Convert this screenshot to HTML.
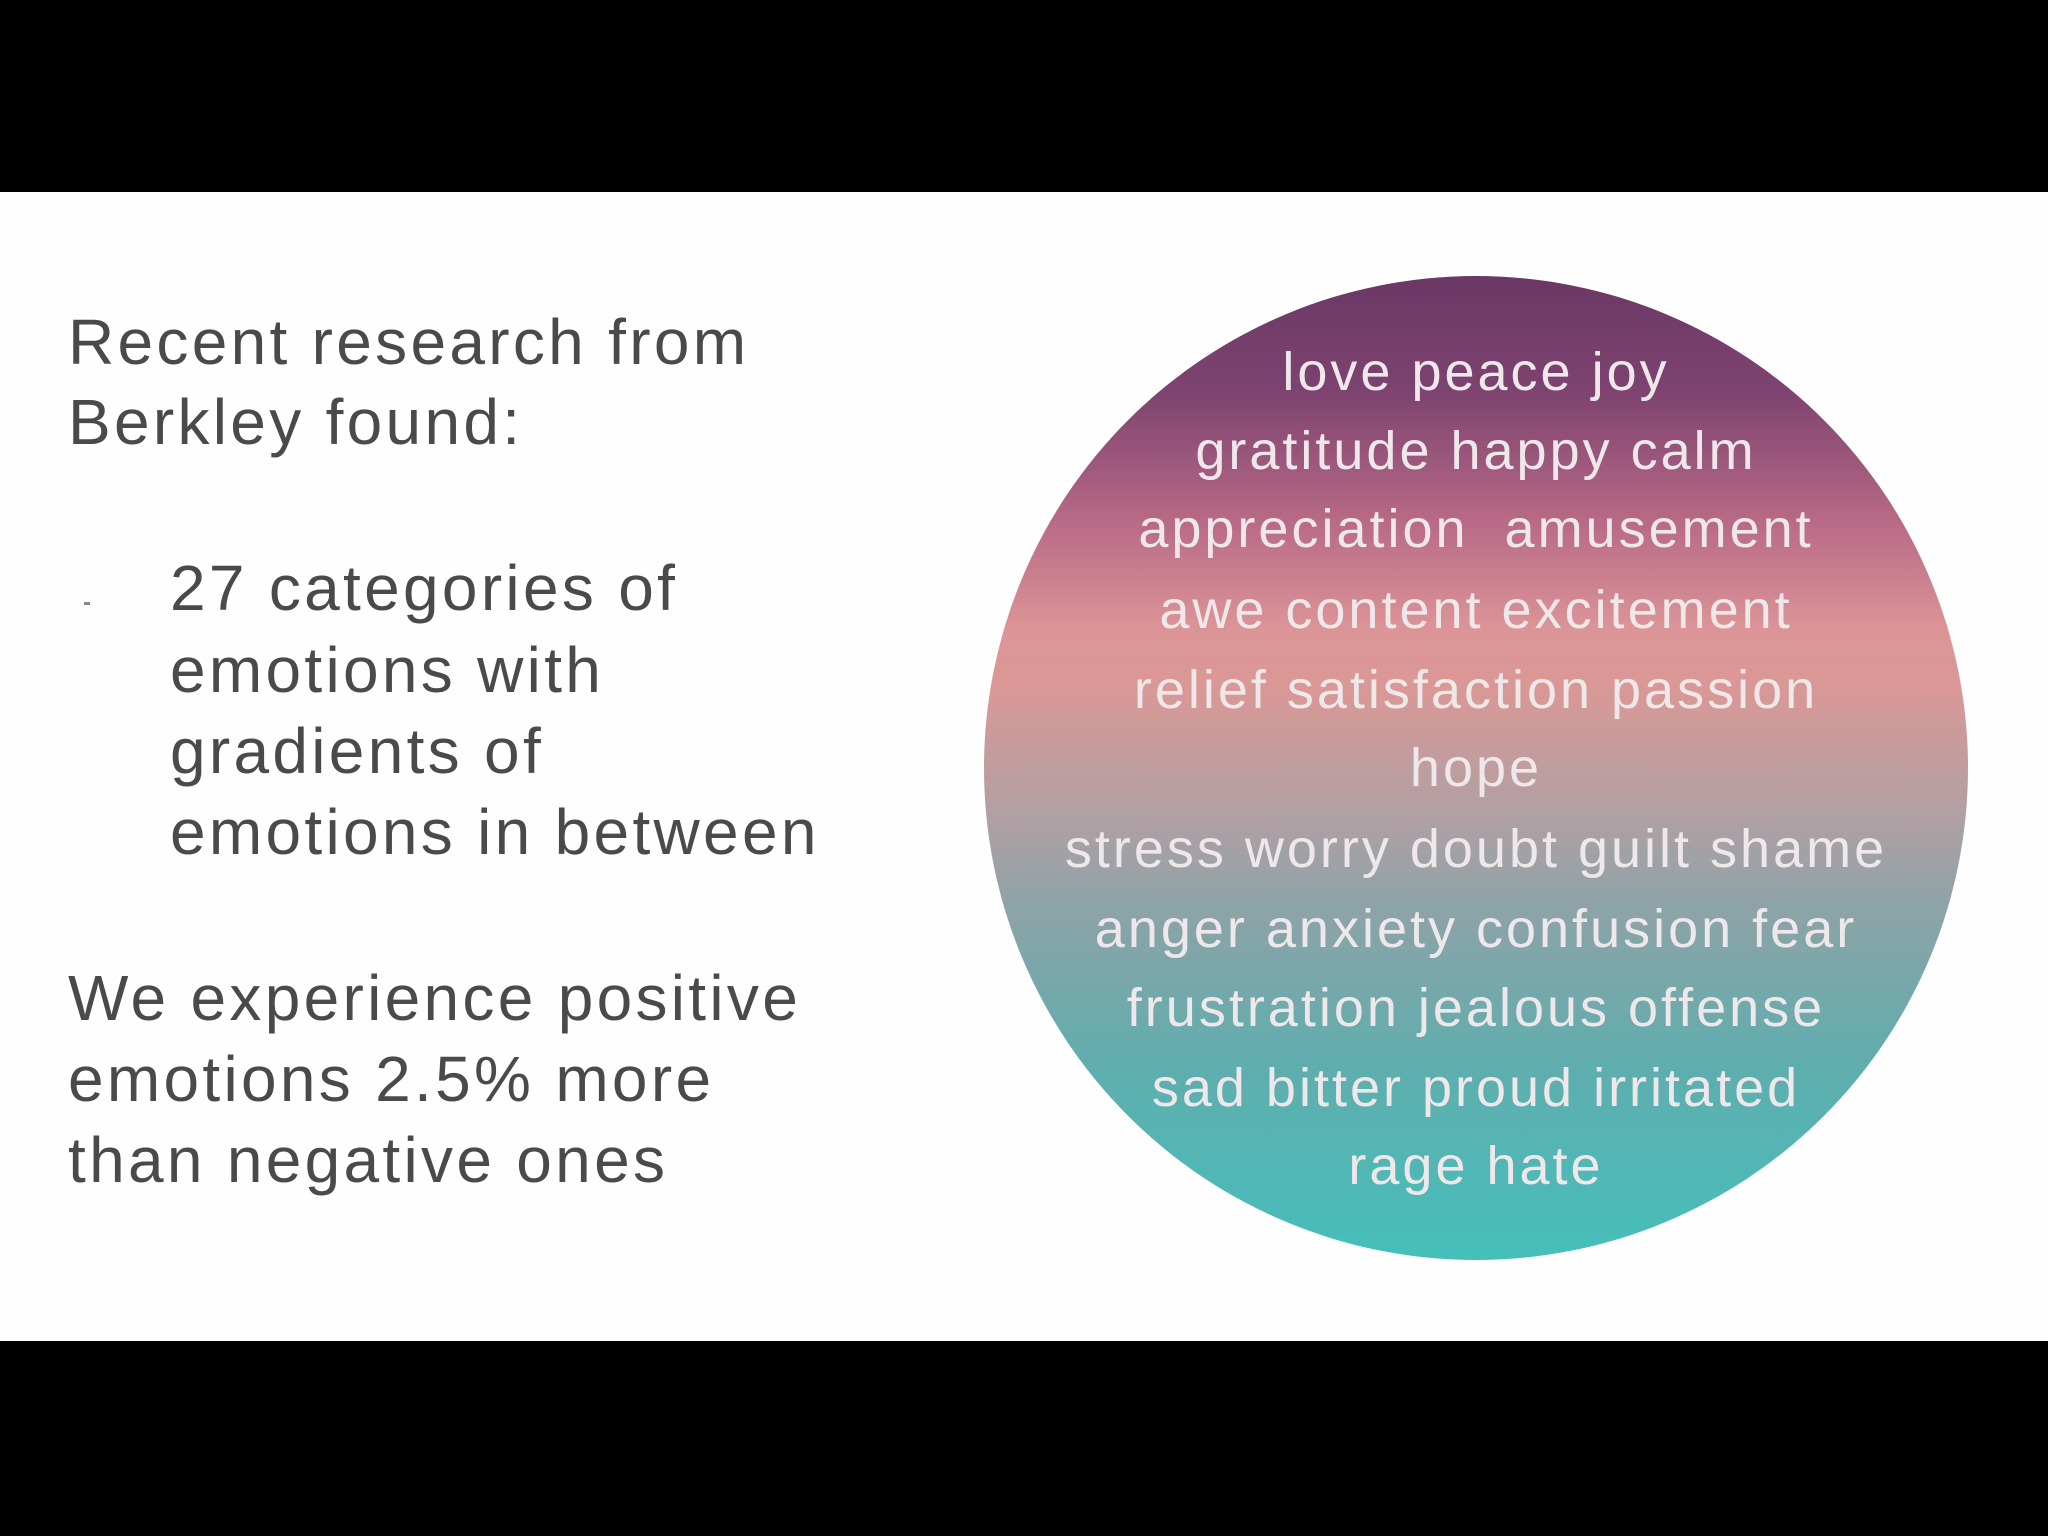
<!DOCTYPE html>
<html><head><style>
body{margin:0;width:2048px;height:1536px;background:#000;position:relative;overflow:hidden;font-family:"Liberation Sans",sans-serif}
#w{position:absolute;left:0;top:192px;width:2048px;height:1149px;background:#fefefe}
.l{position:absolute;left:68px;height:80px;line-height:80px;font-size:64px;color:#4a4a4a;white-space:nowrap;letter-spacing:3.3px}
.i{left:170px}
#c{position:absolute;left:984px;top:276px;width:984px;height:984px;border-radius:50%;
background:linear-gradient(to bottom,#6a3866 0%,#7e4370 12%,#b86a86 25%,#dc9597 36%,#d99896 42%,#b0a0a4 55%,#8ea3a7 64%,#60adae 80%,#45bfba 100%)}
.c{position:absolute;left:984px;width:984px;text-align:center;height:80px;line-height:80px;font-size:54px;color:#efe8ea;white-space:nowrap;letter-spacing:3px}
</style></head><body>
<div id="w"></div>
<div class="l" style="top:302px">Recent research from</div>
<div class="l" style="top:382px">Berkley found:</div>
<div style="position:absolute;left:84px;top:602px;width:6px;height:3px;background:#888"></div>
<div class="l i" style="top:548px">27 categories of</div>
<div class="l i" style="top:630px">emotions with</div>
<div class="l i" style="top:711px">gradients of</div>
<div class="l i" style="top:792px">emotions in between</div>
<div class="l" style="top:958px">We experience positive</div>
<div class="l" style="top:1039px">emotions 2.5% more</div>
<div class="l" style="top:1120px">than negative ones</div>
<div id="c"></div>
<div class="c" style="top:332px">love peace joy</div>
<div class="c" style="top:411px">gratitude happy calm</div>
<div class="c" style="top:489px">appreciation&nbsp; amusement</div>
<div class="c" style="top:570px">awe content excitement</div>
<div class="c" style="top:650px">relief satisfaction passion</div>
<div class="c" style="top:728px">hope</div>
<div class="c" style="top:809px">stress worry doubt guilt shame</div>
<div class="c" style="top:889px">anger anxiety confusion fear</div>
<div class="c" style="top:968px">frustration jealous offense</div>
<div class="c" style="top:1048px">sad bitter proud irritated</div>
<div class="c" style="top:1126px">rage hate</div>
</body></html>
